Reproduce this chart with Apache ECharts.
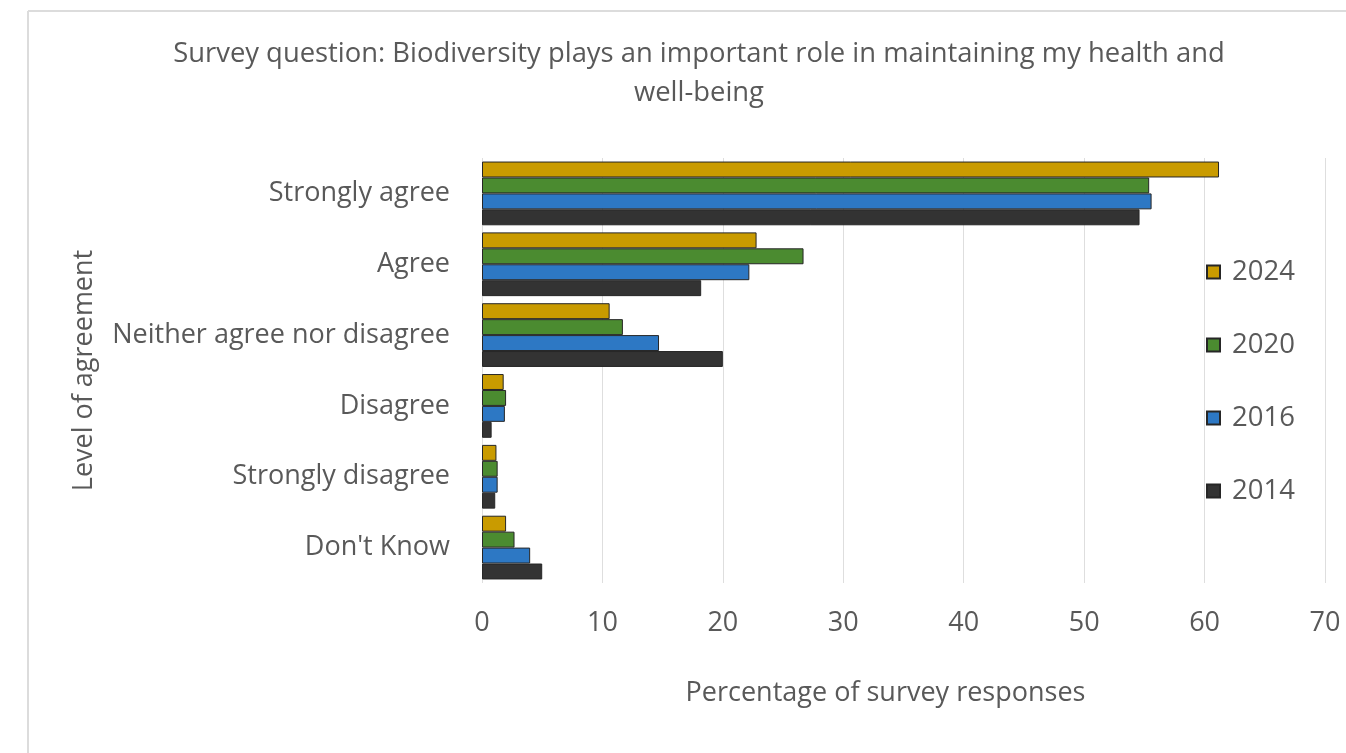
<!DOCTYPE html>
<html>
<head>
<meta charset="utf-8">
<title>Biodiversity and well-being survey</title>
<script src="https://cdn.jsdelivr.net/npm/echarts@6/dist/echarts.min.js"></script>
<style>
  html, body { margin: 0; padding: 0; background: #ffffff; }
  #chart { width: 1346px; height: 753px; }
</style>
</head>
<body>
<div id="chart"></div>
<script>
// Response categories, top to bottom
const categories = [
  'Strongly agree',
  'Agree',
  'Neither agree nor disagree',
  'Disagree',
  'Strongly disagree',
  "Don't Know"
];

// Percentage of survey responses per year
const values2024 = [61.2, 22.8, 10.6, 1.8, 1.2, 2.0];
const values2020 = [55.4, 26.7, 11.7, 2.0, 1.3, 2.7];
const values2016 = [55.6, 22.2, 14.7, 1.9, 1.3, 4.0];
const values2014 = [54.6, 18.2, 20.0, 0.8, 1.1, 5.0];

const years = ['2024', '2020', '2016', '2014'];
const yearColors = ['#C99B00', '#4B8B30', '#2D78C4', '#333333'];

const xTicks = [0, 10, 20, 30, 40, 50, 60, 70];

const titleText = 'Survey question: Biodiversity plays an important role in maintaining my health and\nwell-being';

const FONT = '"Open Sans", "DejaVu Sans", sans-serif';
const TEXT_GREY = '#595959';
const FS = 27;

const seriesValues = [values2024, values2020, values2016, values2014];

const chart = echarts.init(document.getElementById('chart'), null, { renderer: 'canvas' });

chart.setOption({
  backgroundColor: '#ffffff',
  animation: false,
  textStyle: { fontFamily: FONT, color: TEXT_GREY },
  graphic: [
    // light frame along the top and left edge
    { type: 'line', shape: { x1: 28, y1: 11, x2: 1346, y2: 11 }, style: { stroke: '#dcdcdc', lineWidth: 2 } },
    { type: 'line', shape: { x1: 28, y1: 11, x2: 28, y2: 753 }, style: { stroke: '#dcdcdc', lineWidth: 2 } },
    {
      type: 'text', x: 699, y: 35,
      style: {
        text: titleText, textAlign: 'center', fill: TEXT_GREY,
        font: '27.4px ' + FONT, lineHeight: 39
      }
    }
  ],
  legend: {
    orient: 'vertical',
    left: 1201,
    top: 253,
    itemWidth: 13,
    itemHeight: 13,
    itemGap: 45,
    icon: 'rect',
    data: years,
    textStyle: { fontSize: 27.5, color: TEXT_GREY, fontFamily: FONT, padding: [0, 0, 0, 7] }
  },
  grid: { left: 482, right: 21, top: 158, bottom: 170 },
  xAxis: {
    type: 'value',
    min: xTicks[0],
    max: xTicks[xTicks.length - 1],
    interval: 10,
    name: 'Percentage of survey responses',
    nameLocation: 'middle',
    nameGap: 97,
    nameTextStyle: { fontSize: FS, color: TEXT_GREY, padding: [0, 36, 0, 0] },
    axisLine: { show: false },
    axisTick: { show: false },
    axisLabel: { fontSize: FS, color: TEXT_GREY, margin: 27 },
    splitLine: { lineStyle: { color: '#dedede', width: 1 } }
  },
  yAxis: {
    type: 'category',
    data: categories,
    inverse: true,
    name: 'Level of agreement',
    nameLocation: 'middle',
    nameGap: 384,
    nameRotate: 90,
    nameTextStyle: { fontSize: FS, color: TEXT_GREY },
    axisLine: { show: false },
    axisTick: { show: false },
    axisLabel: { fontSize: FS, color: TEXT_GREY, margin: 32 }
  },
  series: years.map((y, i) => ({
    name: y,
    type: 'bar',
    data: seriesValues[i],
    barGap: '0%',
    barCategoryGap: '10%',
    itemStyle: { color: yearColors[i], borderColor: '#262626', borderWidth: 1 }
  }))
});
</script>
</body>
</html>
